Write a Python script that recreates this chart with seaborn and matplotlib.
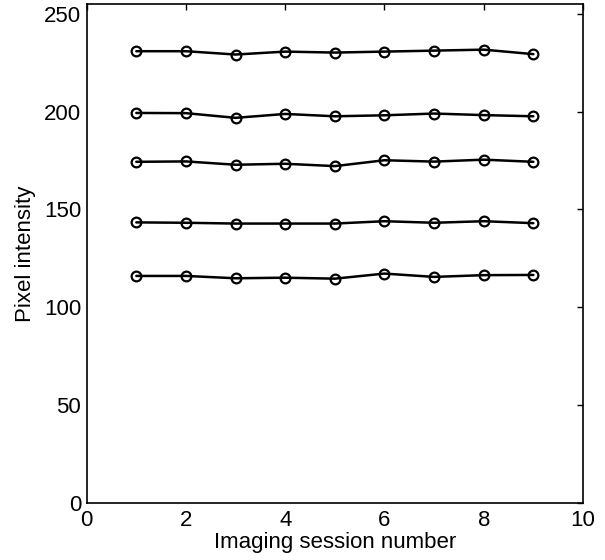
import numpy as np
import pandas as pd
import matplotlib
matplotlib.use("Agg")
import matplotlib.pyplot as plt
import seaborn as sns

sessions = [1, 2, 3, 4, 5, 6, 7, 8, 9]
series_a = [231.0, 231.0, 229.3, 230.8, 230.3, 230.8, 231.3, 231.8, 229.5]
series_b = [199.4, 199.3, 196.9, 198.9, 197.7, 198.2, 199.1, 198.3, 197.7]
series_c = [174.4, 174.6, 172.9, 173.4, 172.2, 175.2, 174.5, 175.5, 174.4]
series_d = [143.4, 143.2, 142.8, 142.8, 142.8, 144.0, 143.2, 144.0, 143.0]
series_e = [116.0, 116.0, 114.8, 115.1, 114.6, 117.2, 115.5, 116.4, 116.5]

x_ticks = [0, 2, 4, 6, 8, 10]
y_ticks = [0, 50, 100, 150, 200, 250]

names = ["a", "b", "c", "d", "e"]
all_series = [series_a, series_b, series_c, series_d, series_e]
df = pd.DataFrame({
    "session": sessions * len(all_series),
    "intensity": sum(all_series, []),
    "series": sum([[n] * len(sessions) for n in names], []),
})

sns.set_style("white", {"xtick.direction": "in", "ytick.direction": "in"})
plt.rcParams["font.family"] = ["Liberation Sans", "DejaVu Sans"]

fig = plt.figure(figsize=(6.05, 5.6), dpi=100)
ax = fig.add_axes([0.1433, 0.1025, 0.8203, 0.8898])

sns.lineplot(data=df, x="session", y="intensity", hue="series",
             palette=["black"] * 5, marker="o", markersize=7,
             markerfacecolor="none", markeredgecolor="black",
             markeredgewidth=1.6, linewidth=1.8, legend=False, ax=ax)

ax.set_xlim(0, 10)
ax.set_ylim(0, 255)
ax.set_xticks(x_ticks)
ax.set_yticks(y_ticks)
ax.tick_params(axis="both", which="both", direction="in", top=True, right=True,
               length=4, width=1.0, color="black", labelsize=16, labelcolor="black")
ax.tick_params(axis="x", pad=5)
ax.tick_params(axis="y", pad=4)
for s in ax.spines.values():
    s.set_visible(True)
    s.set_color("black")
    s.set_linewidth(1.2)

ax.set_xlabel("Imaging session number", fontsize=16, color="black", labelpad=1)
ax.set_ylabel("Pixel intensity", fontsize=16, color="black", labelpad=6)

fig.savefig("out.png", dpi=100, facecolor="white")
